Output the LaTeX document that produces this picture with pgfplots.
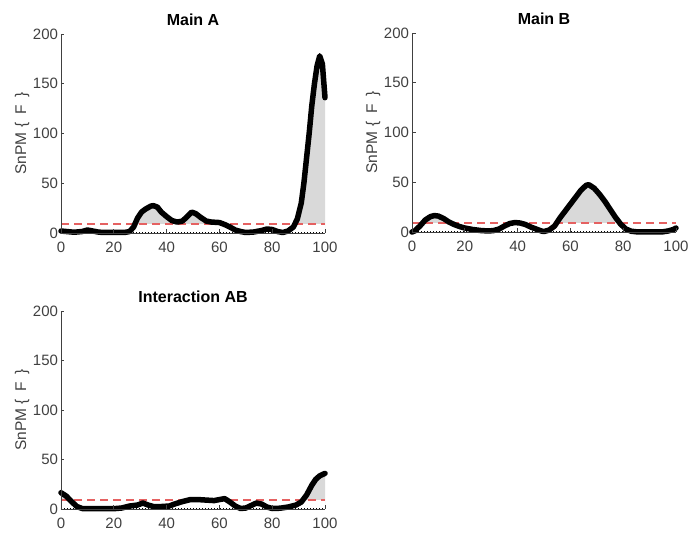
\documentclass[border=0pt]{standalone}
\usepackage{pgfplots}
\pgfplotsset{compat=1.18}
\usepackage{pgfplotstable}
\usepackage{fontspec}
\setmainfont{Liberation Sans}
\definecolor{axgray}{gray}{0.25}
\definecolor{thr}{rgb}{0.9,0.38,0.38}
\definecolor{fillg}{gray}{0.85}

\pgfplotstableread{
x y
0 2
2 1.5
4 1
6 1
8 1.5
10 3
12 2
14 1
16 0.5
20 0.5
24 0.5
26 1.5
27.5 6
29 15
30.5 21
32 24
34 27
35 27.5
36.5 26
38 21
40 16.5
42 12.5
44 11
46 12
48 17
49.5 21
51 19.5
53 15.5
55 12
57 11
60 10.5
62 8.5
64 6
66 3
68 1.5
70 0.5
73 1
76 2.5
78 4
80 3.5
82 1.5
84 0.5
86 2
88 6
89.5 14
91 30
92 50
93 75
94 100
95 128
96 150
97 168
98 178
99 170
100 136
}\dataA

\pgfplotstableread{
x y
0 0
1 1
3 6
5 12
7 15.5
8.5 16.5
10 16
12 13.5
14 10
16 7.5
18 5.5
20 4
23 2.5
26 1.5
29 1
31 1.5
33 3
35 6
37 8.5
39 9.5
41 9
43 7.5
45 5
47 3
49 1
50 0.5
52 2
54 6
56 14
58 21
60 28
62 35
64 42
66 47
67 47.5
69 44
71 38
73 31
75 23
77 15
79 8
81 3
83 0.8
85 0.2
90 0
95 0.2
97 1
99 2.5
100 4
}\dataB

\pgfplotstableread{
x y
0 16.5
2 13
4 7.5
6 2.5
8 0.5
12 0.3
16 0.5
20 0.3
23 1
26 3
29 4
31 6
33 4
35 2.5
38 2.5
41 3
43 5
46 7.5
49 9.5
52 9.5
55 9
58 8.5
60 9.5
62 10.5
64 7
66 3
68 0.5
70 1
72 3.5
74 6
76 5
78 2
80 0.5
83 0.8
86 2
89 4
91 7
93 14
95 24
96.5 30
98 33.5
100 36
}\dataAB

\pgfplotsset{spm/.style={
  scale only axis, width=264pt, height=199pt,
  anchor=south west,
  xmin=0, xmax=100, ymin=0, ymax=200,
  axis x line*=bottom, axis y line*=left,
  xtick={0,20,...,100}, ytick={0,50,...,200},
  tick align=inside, major tick length=3.5pt,
  axis on top, clip=false,
  axis line style={axgray, line width=0.7pt},
  tick style={axgray, line width=0.7pt},
  ticklabel style={font=\fontsize{15}{17}\selectfont, text=axgray},
  xticklabel style={yshift=-5pt},
  yticklabel style={xshift=0.5pt},
  /pgf/number format/assume math mode=true,
  ylabel={SnPM \{\hspace{0.5em}F\hspace{0.5em}\}},
  ylabel style={font=\fontsize{15.5}{17}\selectfont, text=axgray, at={(axis description cs:-0.147,0.5)}, anchor=center},
  title style={font=\bfseries\fontsize{16}{18}\selectfont, at={(axis description cs:0.5,1.04)}, anchor=center},
}}

\newcommand{\spmcurve}[2]{%
  \addplot[fill=fillg, draw=none] table[x=x,y=y] {#1} \closedcycle;
  \addplot[fill=white, draw=none] coordinates {(0,0) (100,0) (100,#2) (0,#2)} -- cycle;
  \addplot[black, dotted, line width=1pt] coordinates {(0,0) (100,0)};
  \addplot[thr, dashed, dash pattern=on 8pt off 5pt, line width=1.6pt] coordinates {(0,#2) (100,#2)};
  \addplot[black, line width=5.5pt, line join=round, line cap=round] table[x=x,y=y] {#1};
}

\begin{document}
\begin{tikzpicture}
\path[use as bounding box] (0,0) rectangle (688pt,538pt);
\begin{axis}[spm, at={(61pt,305pt)}, title={Main A}]
\spmcurve{\dataA}{9.2}
\end{axis}
\begin{axis}[spm, at={(412pt,306pt)}, title={Main B}]
\spmcurve{\dataB}{9.2}
\end{axis}
\begin{axis}[spm, at={(61pt,29pt)}, height=198pt, title={Interaction AB}]
\spmcurve{\dataAB}{9.3}
\end{axis}
\end{tikzpicture}
\end{document}
